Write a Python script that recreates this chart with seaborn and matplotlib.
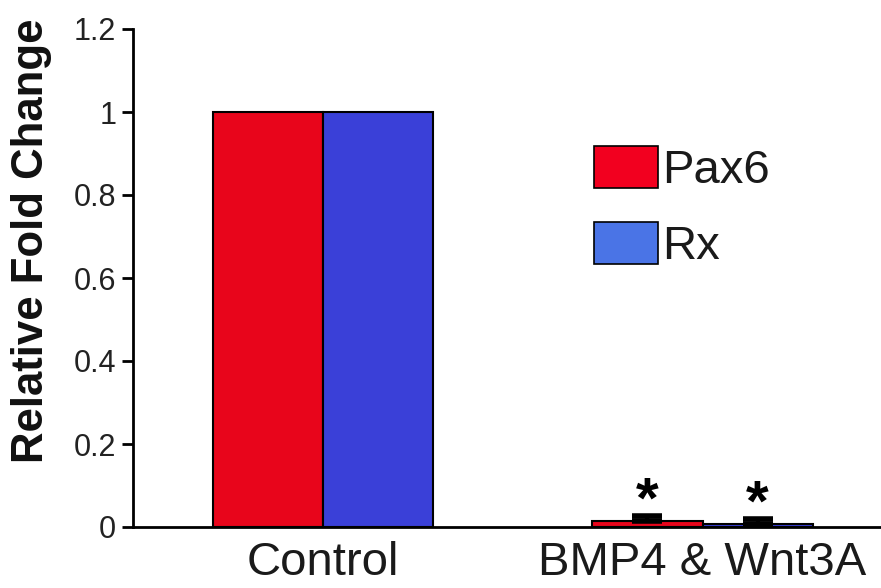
import matplotlib
matplotlib.use("Agg")
import matplotlib.pyplot as plt
import seaborn as sns
import pandas as pd
from matplotlib.patches import Patch

groups = ["Control", "BMP4 & Wnt3A"]
genes = ["Pax6", "Rx"]
pax6_vals = [1.0, 0.015]
rx_vals = [1.0, 0.008]
pax6_err = [0.0, 0.012]
rx_err = [0.0, 0.012]
significant = [False, True]
yticks = [0, 0.2, 0.4, 0.6, 0.8, 1.0, 1.2]
ytick_labels = ["0", "0.2", "0.4", "0.6", "0.8", "1", "1.2"]

bar_colors = {"Pax6": "#e8051b", "Rx": "#3a40d8"}
legend_colors = {"Pax6": "#f2001f", "Rx": "#4a74e6"}

df = pd.DataFrame({
    "group": groups * 2,
    "gene": ["Pax6"] * 2 + ["Rx"] * 2,
    "value": pax6_vals + rx_vals,
    "err": pax6_err + rx_err,
})

sns.set_theme(style="white")
plt.rcParams["font.family"] = ["Liberation Sans", "DejaVu Sans"]

fig = plt.figure(figsize=(8.81, 5.88), dpi=100)
ax = fig.add_axes([133 / 881, 1 - 527 / 588, 1 - 133 / 881, (527 - 29) / 588])

sns.barplot(data=df, x="group", y="value", hue="gene", order=groups,
            hue_order=genes, palette=bar_colors, width=0.58, errorbar=None,
            edgecolor="black", linewidth=1.5, saturation=1, ax=ax, legend=False)

errs = {"Pax6": pax6_err, "Rx": rx_err}
for cont, gene in zip(ax.containers, genes):
    for i, bar in enumerate(cont):
        e = errs[gene][i]
        if e > 0:
            xc = bar.get_x() + bar.get_width() / 2
            top = bar.get_height()
            ax.errorbar([xc], [top], yerr=[[0], [e]], fmt="none", ecolor="black",
                        elinewidth=3, capsize=11, capthick=4)
            if significant[i]:
                ax.text(xc, top + e - 0.033, "*", ha="center", va="bottom",
                        fontsize=42, fontweight="bold", color="black")

ax.set_ylim(0, 1.2)
ax.set_xlim(-0.5, 1.47)
ax.set_yticks(yticks)
ax.set_yticklabels(ytick_labels, fontsize=22)
ax.tick_params(axis="y", direction="out", length=8, width=2, color="black", pad=4,
               left=True, labelcolor="#222222")
ax.tick_params(axis="x", length=0, labelsize=34, pad=10, labelcolor="#1a1a1a")
ax.set_xlabel("")
ax.set_ylabel("Relative Fold Change", fontsize=31.5, fontweight="bold", color="#111111")
ax.yaxis.set_label_coords(-0.108, 0.574)

for s in ["top", "right"]:
    ax.spines[s].set_visible(False)
for s in ["left", "bottom"]:
    ax.spines[s].set_linewidth(2)
    ax.spines[s].set_color("black")

handles = [Patch(facecolor=legend_colors[g], edgecolor="black", linewidth=1.2, label=g)
           for g in genes]
leg = ax.legend(handles=handles, loc="upper left", bbox_to_anchor=(594 / 881, 1 - 146 / 588),
                bbox_transform=fig.transFigure, frameon=False, fontsize=34,
                handlelength=1.35, handleheight=1.0, handletextpad=0.1,
                labelspacing=0.6, borderpad=0, borderaxespad=0)
for t in leg.get_texts():
    t.set_color("#1a1a1a")

fig.savefig("out.png", dpi=100)
